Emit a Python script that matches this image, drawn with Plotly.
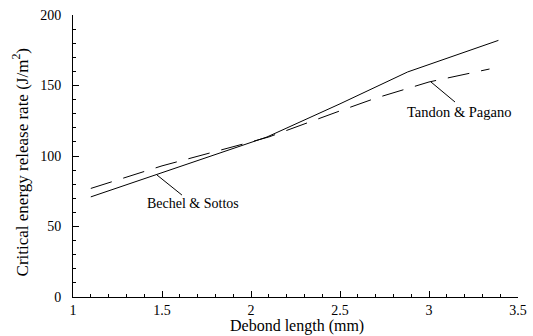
import plotly.graph_objects as go

# Data
bechel_x = [1.1, 1.5, 2.0, 2.09, 2.5, 2.88, 3.39]
bechel_y = [71, 88, 109.5, 113.5, 137, 159.6, 182]
tandon_x = [1.1, 1.5, 2.0, 2.1, 2.5, 2.7, 3.0, 3.34]
tandon_y = [77, 93, 110, 113.5, 132, 141, 152.5, 161.7]

x_ticks = [1, 1.5, 2, 2.5, 3, 3.5]
x_tick_labels = ["1", "1.5", "2", "2.5", "3", "3.5"]
y_ticks = [0, 50, 100, 150, 200]

FONT = "Times New Roman, Liberation Serif, serif"

fig = go.Figure()
fig.add_trace(go.Scatter(x=bechel_x, y=bechel_y, mode="lines",
                         line=dict(color="black", width=1), showlegend=False))
fig.add_trace(go.Scatter(x=tandon_x, y=tandon_y, mode="lines",
                         line=dict(color="black", width=1, dash="22px,12px"), showlegend=False))

# leader lines
fig.add_shape(type="line", x0=1.472, y0=86.5, x1=1.612, y1=72.3,
              line=dict(color="black", width=1))
fig.add_shape(type="line", x0=3.011, y0=152.5, x1=3.146, y1=138.3,
              line=dict(color="black", width=1))

fig.add_annotation(x=1.674, y=66, text="Bechel &amp; Sottos", showarrow=False,
                   font=dict(family=FONT, size=14, color="black"))
fig.add_annotation(x=3.174, y=131.2, text="Tandon &amp; Pagano", showarrow=False,
                   font=dict(family=FONT, size=14.5, color="black"))

# axis titles
fig.add_annotation(xref="paper", yref="paper", x=0.503, y=-0.138,
                   xanchor="center", yanchor="bottom", borderpad=0,
                   text="Debond length (mm)", showarrow=False,
                   font=dict(family=FONT, size=16, color="black"))
fig.add_annotation(xref="paper", yref="paper", x=-0.117, y=0.477,
                   xanchor="center", yanchor="middle", textangle=-90,
                   text="Critical energy release rate (J/m<sup>2</sup>)", showarrow=False,
                   font=dict(family=FONT, size=17, color="black"))

fig.update_xaxes(range=[1, 3.5], tickvals=x_ticks, ticktext=x_tick_labels,
                 ticks="inside", ticklen=6, tickcolor="black", showline=True,
                 linecolor="black", linewidth=1, showgrid=False, zeroline=False,
                 automargin=False,
                 minor=dict(dtick=0.1, ticks="inside", ticklen=3, tickcolor="black"),
                 tickfont=dict(family=FONT, size=14, color="black"))
fig.update_yaxes(range=[0, 200], tickvals=y_ticks,
                 ticks="inside", ticklen=6, tickcolor="black", showline=True,
                 linecolor="black", linewidth=1, showgrid=False, zeroline=False,
                 automargin=False,
                 minor=dict(dtick=10, ticks="inside", ticklen=3, tickcolor="black"),
                 ticklabelstandoff=8,
                 tickfont=dict(family=FONT, size=14, color="black"))

fig.update_layout(width=533, height=336, margin=dict(l=73, r=15, t=15, b=39),
                  plot_bgcolor="white", paper_bgcolor="white")

fig.write_html("out.html", config={"displayModeBar": False},
               post_script="document.body.style.margin='0';document.body.style.padding='0';")
